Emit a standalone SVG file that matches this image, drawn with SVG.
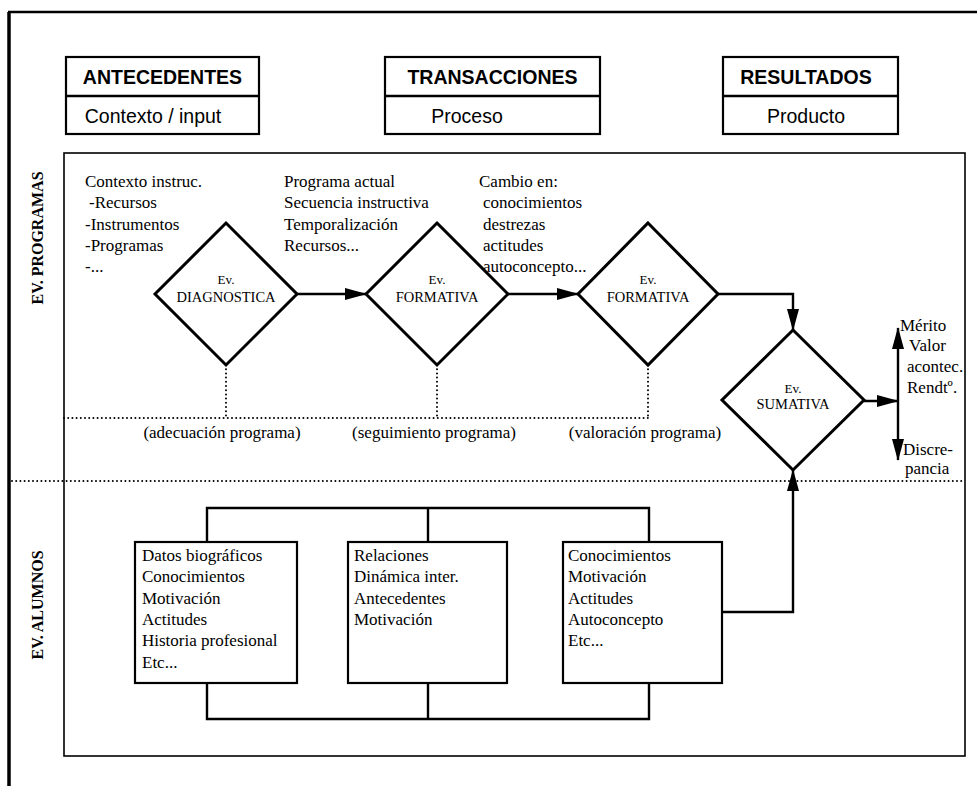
<svg xmlns="http://www.w3.org/2000/svg" width="977" height="786" viewBox="0 0 977 786">
<defs>
<style>
.sans{font-family:"Liberation Sans",Arial,sans-serif;fill:#000}
.hd{font-size:19.5px;font-weight:bold}
.sub{font-size:19.5px}
.serif{font-family:"Liberation Serif","Times New Roman",serif;fill:#000}
.t{font-size:17px}
.dm{font-size:14.5px}
.ev{font-size:13px}
.side{font-size:16px;font-weight:bold}
.box{fill:#fff;stroke:#000;stroke-width:2.2}
.panel{fill:none;stroke:#000;stroke-width:1.6}
.dia{fill:#fff;stroke:#000;stroke-width:3}
.ln{fill:none;stroke:#000;stroke-width:2.4}
.dot{fill:none;stroke:#000;stroke-width:2;stroke-dasharray:0 4.2;stroke-linecap:round}
</style>
<marker id="ah" markerUnits="userSpaceOnUse" markerWidth="22" markerHeight="12" refX="21" refY="6" orient="auto-start-reverse">
<path d="M0,0 L22,6 L0,12 z" fill="#000"/>
</marker>
</defs>
<g id="frame">
<path d="M8,12 H977" fill="none" stroke="#000" stroke-width="2.5"/>
<path d="M9,12 V786" fill="none" stroke="#000" stroke-width="3.5"/>
<rect class="panel" x="64" y="153" width="901" height="603"/>
</g>
<g id="side-labels">
<text class="serif side" text-anchor="middle" transform="translate(43,238) rotate(-90)">EV. PROGRAMAS</text>
<text class="serif side" text-anchor="middle" transform="translate(43,605) rotate(-90)">EV. ALUMNOS</text>
</g>
<g id="antecedentes">
<rect class="box" x="66" y="57" width="193" height="77"/>
<path d="M66,96 H259" class="ln" stroke-width="2"/>
<text class="sans hd" x="162.5" y="84" text-anchor="middle">ANTECEDENTES</text>
<text class="sans sub" x="153" y="123" text-anchor="middle">Contexto / input</text>
</g>
<g id="transacciones">
<rect class="box" x="385" y="57" width="215" height="77"/>
<path d="M385,96 H600" class="ln" stroke-width="2"/>
<text class="sans hd" x="492.5" y="84" text-anchor="middle">TRANSACCIONES</text>
<text class="sans sub" x="467" y="123" text-anchor="middle">Proceso</text>
</g>
<g id="resultados">
<rect class="box" x="723" y="57" width="175" height="77"/>
<path d="M723,96 H898" class="ln" stroke-width="2"/>
<text class="sans hd" x="806" y="84" text-anchor="middle">RESULTADOS</text>
<text class="sans sub" x="806" y="123" text-anchor="middle">Producto</text>
</g>
<g id="texts-programas" class="serif t">
<text x="85" y="187">Contexto instruc.</text>
<text x="89" y="208">-Recursos</text>
<text x="85" y="230">-Instrumentos</text>
<text x="85" y="251">-Programas</text>
<text x="85" y="272">-...</text>
<text x="284" y="187">Programa actual</text>
<text x="284" y="208">Secuencia instructiva</text>
<text x="284" y="230">Temporalización</text>
<text x="284" y="251">Recursos...</text>
<text x="479" y="187">Cambio en:</text>
<text x="483" y="208">conocimientos</text>
<text x="483" y="230">destrezas</text>
<text x="483" y="251">actitudes</text>
<text x="483" y="272">autoconcepto...</text>
</g>
<g id="connectors">
<path class="dot" d="M226,365 V418 M437,365 V418 M648,365 V418 M64,418 H648"/>
<path class="dot" d="M12,481 H965"/>
<path class="ln" d="M297,294 H366" marker-end="url(#ah)"/>
<path class="ln" d="M508,294 H578" marker-end="url(#ah)"/>
<path class="ln" d="M718,294 H793 V330" marker-end="url(#ah)"/>
<path class="ln" d="M864,401 H898" marker-end="url(#ah)"/>
<path class="ln" d="M898,460 V328" marker-start="url(#ah)" marker-end="url(#ah)"/>
<path class="ln" d="M722,612 H793 V470" marker-end="url(#ah)"/>
<path class="ln" d="M207,542 V508 H649 V542 M428,508 V542"/>
<path class="ln" d="M207,683 V719 H649 V683 M428,683 V719"/>
</g>
<g id="ev-diagnostica">
<polygon class="dia" points="226,223 297,294 226,365 155,294"/>
<text class="serif ev" x="226" y="284" text-anchor="middle">Ev.</text>
<text class="serif dm" x="226" y="302" text-anchor="middle">DIAGNOSTICA</text>
</g>
<g id="ev-formativa-1">
<polygon class="dia" points="437,223 508,294 437,365 366,294"/>
<text class="serif ev" x="437" y="284" text-anchor="middle">Ev.</text>
<text class="serif dm" x="437" y="302" text-anchor="middle">FORMATIVA</text>
</g>
<g id="ev-formativa-2">
<polygon class="dia" points="648,223 718,294 648,365 578,294"/>
<text class="serif ev" x="648" y="284" text-anchor="middle">Ev.</text>
<text class="serif dm" x="648" y="302" text-anchor="middle">FORMATIVA</text>
</g>
<g id="ev-sumativa">
<polygon class="dia" points="793,330 864,400 793,470 722,400"/>
<text class="serif ev" x="793" y="393" text-anchor="middle">Ev.</text>
<text class="serif dm" x="793" y="409" text-anchor="middle">SUMATIVA</text>
</g>
<g id="resultado-labels" class="serif t">
<text x="900" y="331">Mérito</text>
<text x="909" y="351">Valor</text>
<text x="907" y="372">acontec.</text>
<text x="907" y="393">Rendtº.</text>
<text x="903" y="455">Discre-</text>
<text x="905" y="474">pancia</text>
</g>
<g id="program-labels" class="serif t">
<text x="222" y="438" text-anchor="middle">(adecuación programa)</text>
<text x="434" y="438" text-anchor="middle">(seguimiento programa)</text>
<text x="645" y="438" text-anchor="middle">(valoración programa)</text>
</g>
<g id="alumnos-1">
<rect class="box" x="135" y="542" width="162" height="141"/>
<text class="serif t" x="142" y="561">Datos biográficos</text>
<text class="serif t" x="142" y="582">Conocimientos</text>
<text class="serif t" x="142" y="604">Motivación</text>
<text class="serif t" x="142" y="625">Actitudes</text>
<text class="serif t" x="142" y="646">Historia profesional</text>
<text class="serif t" x="142" y="668">Etc...</text>
</g>
<g id="alumnos-2">
<rect class="box" x="348" y="542" width="159" height="141"/>
<text class="serif t" x="354" y="561">Relaciones</text>
<text class="serif t" x="354" y="582">Dinámica inter.</text>
<text class="serif t" x="354" y="604">Antecedentes</text>
<text class="serif t" x="354" y="625">Motivación</text>
</g>
<g id="alumnos-3">
<rect class="box" x="563" y="542" width="159" height="141"/>
<text class="serif t" x="568" y="561">Conocimientos</text>
<text class="serif t" x="568" y="582">Motivación</text>
<text class="serif t" x="568" y="604">Actitudes</text>
<text class="serif t" x="568" y="625">Autoconcepto</text>
<text class="serif t" x="568" y="646">Etc...</text>
</g>
</svg>
